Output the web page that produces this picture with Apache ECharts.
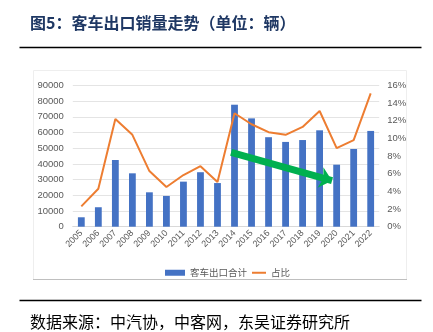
<!DOCTYPE html>
<html>
<head>
<meta charset="utf-8">
<script src="https://cdn.jsdelivr.net/npm/echarts@6/dist/echarts.min.js"></script>
<style>
html,body{margin:0;padding:0;background:#fff;}
#c{width:433px;height:332px;}
</style>
</head>
<body>
<div id="c"></div>
<script>
const years = ['2005','2006','2007','2008','2009','2010','2011','2012','2013','2014','2015','2016','2017','2018','2019','2020','2021','2022'];
const exportTotal = [6000,12400,42500,34000,21900,19600,28700,34700,27800,77700,69000,57000,54000,55200,61400,39500,49500,61000];
const sharePct = [2.3,4.3,12.2,10.4,6.3,4.5,5.85,6.85,5.05,12.85,11.6,10.7,10.4,11.3,13.1,8.9,9.8,15.1];
const leftTicks = {min:0, max:90000, interval:10000};
const rightTicks = {min:0, max:16, interval:2};
// trend arrow annotation (category index position, left-axis value)
const arrowFrom = [8.8, 47400];
const arrowTo = [14.73, 29300];

const chart = echarts.init(document.getElementById('c'), null, {renderer:'canvas'});
const fontFam = '"Liberation Sans", Arial, sans-serif';
chart.setOption({
  animation:false,
  backgroundColor:'#fff',
  graphic:[
    {type:'text', left:30, top:15, style:{text:'图5：客车出口销量走势（单位：辆）', fill:'#1F3864', font:'bold 16px "Noto Sans CJK SC"'}},
    {type:'line', shape:{x1:19.5,y1:47.5,x2:421.5,y2:47.5}, style:{stroke:'#000', lineWidth:1.3}},
    {type:'rect', shape:{x:33.5,y:70.5,width:373,height:209}, style:{fill:'none', stroke:'#EEEEEE', lineWidth:1}},
    {type:'line', shape:{x1:33,y1:279.5,x2:407,y2:279.5}, style:{stroke:'#BFBFBF', lineWidth:1}},
    {type:'line', shape:{x1:19.5,y1:300.5,x2:421.5,y2:300.5}, style:{stroke:'#000', lineWidth:1.3}},
    {type:'text', left:30, top:314, style:{text:'数据来源：中汽协，中客网，东吴证券研究所', fill:'#000', font:'16px "Noto Sans CJK SC"'}}
  ],
  grid:{left:72.8, right:53.8, top:85.4, bottom:105.3, containLabel:false},
  legend:[
    {data:['客车出口合计'], left:160, top:263, itemWidth:20, itemHeight:6, icon:'rect', textStyle:{color:'#595959', fontSize:9.5, fontFamily:'"Noto Sans CJK SC"'}},
    {data:['占比'], left:247, top:263, itemWidth:14, itemHeight:2, icon:'rect', textStyle:{color:'#595959', fontSize:9.5, fontFamily:'"Noto Sans CJK SC"'}}
  ],
  xAxis:[
    {type:'category', data:years, axisTick:{show:false}, axisLine:{lineStyle:{color:'#D9D9D9'}},
     axisLabel:{rotate:45, interval:0, margin:5, color:'#595959', fontSize:9, fontFamily:fontFam, hideOverlap:false}},
    {type:'value', min:-0.5, max:17.5, show:false}
  ],
  yAxis:[
    {type:'value', min:leftTicks.min, max:leftTicks.max, interval:leftTicks.interval,
     axisLine:{show:false}, axisTick:{show:false}, splitLine:{lineStyle:{color:'#E4E4E4'}},
     axisLabel:{margin:9, color:'#595959', fontSize:9.5, fontFamily:fontFam, formatter:function(v){return String(v);}}},
    {type:'value', min:rightTicks.min, max:rightTicks.max, interval:rightTicks.interval,
     axisLine:{show:false}, axisTick:{show:false}, splitLine:{show:false},
     axisLabel:{margin:8, color:'#595959', fontSize:9.5, fontFamily:fontFam, formatter:'{value}%'}}
  ],
  series:[
    {name:'客车出口合计', type:'bar', data:exportTotal, barWidth:'40%', itemStyle:{color:'#4472C4'}},
    {name:'占比', type:'line', yAxisIndex:1, data:sharePct, symbol:'none', lineStyle:{color:'#ED7D31', width:2}, itemStyle:{color:'#ED7D31'}},
    {name:'trend', type:'line', xAxisIndex:1, yAxisIndex:0, data:[], silent:true,
     markLine:{silent:true, symbol:['none','arrow'], symbolSize:[16,12], label:{show:false},
       lineStyle:{color:'#00B050', width:7, type:'solid'},
       data:[[{coord:arrowFrom},{coord:arrowTo}]]}}
  ]
});
</script>
</body>
</html>
